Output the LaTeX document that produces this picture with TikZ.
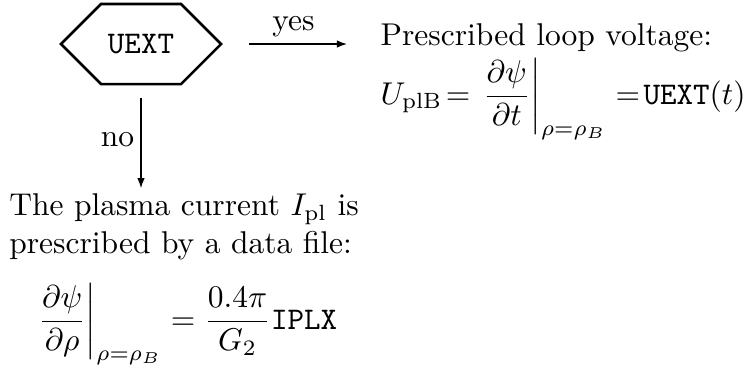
\documentclass[tikz,border=0pt]{standalone}
\usepackage{amsmath}
\usepackage{tikz}
\usetikzlibrary{positioning, arrows.meta, shapes.symbols}

\begin{document}
\begin{tikzpicture}[
  node distance=8pt and 8pt,
  decision/.style={signal, signal to=west and east, signal pointer angle=90, draw, thick,
    minimum width=50.8pt, minimum height=25.4pt, inner sep=0pt, font=\ttfamily},
  txt/.style={align=left, inner sep=0pt},
  lbl/.style={inner sep=2pt},
  arr/.style={-{Latex[length=3.2pt,width=2.4pt]}}
]
\useasboundingbox (-44.76pt,13.97pt) rectangle (193pt,-101.6pt);

\node[decision] (uext) at (0,0) {UEXT};
\node[txt, right=49.9pt of uext.east, anchor=north west, yshift=6.6pt] (voltage)
  {Prescribed loop voltage:\\[1pt]
   $\displaystyle U_{\rm plB}\!= \left.\frac{\partial\psi}{\partial t}\right|_{\rho=\rho_B} =\mkern-3mu \mathtt{UEXT}(t)$};
\node[txt, below=47.35pt of uext.center, anchor=north west, xshift=-42pt] (plasma)
  {The plasma current $I_{\rm pl}$ is\\
   prescribed by a data file:\\[6.5pt]
   \hspace*{8pt}$\displaystyle \left.\frac{\partial\psi}{\partial\rho}\right|_{\rho=\rho_B} = \frac{0.4\pi}{G_2}\mathtt{IPLX}$};

\draw[arr, shorten <=8.25pt, shorten >=10.5pt] (uext.east) -- node[lbl, above, pos=0.45]{yes} (voltage.west |- uext);
\draw[arr, shorten <=4.1pt, shorten >=1.6pt] (uext.south) -- node[lbl, left]{no} (uext |- plasma.north);
\end{tikzpicture}
\end{document}
